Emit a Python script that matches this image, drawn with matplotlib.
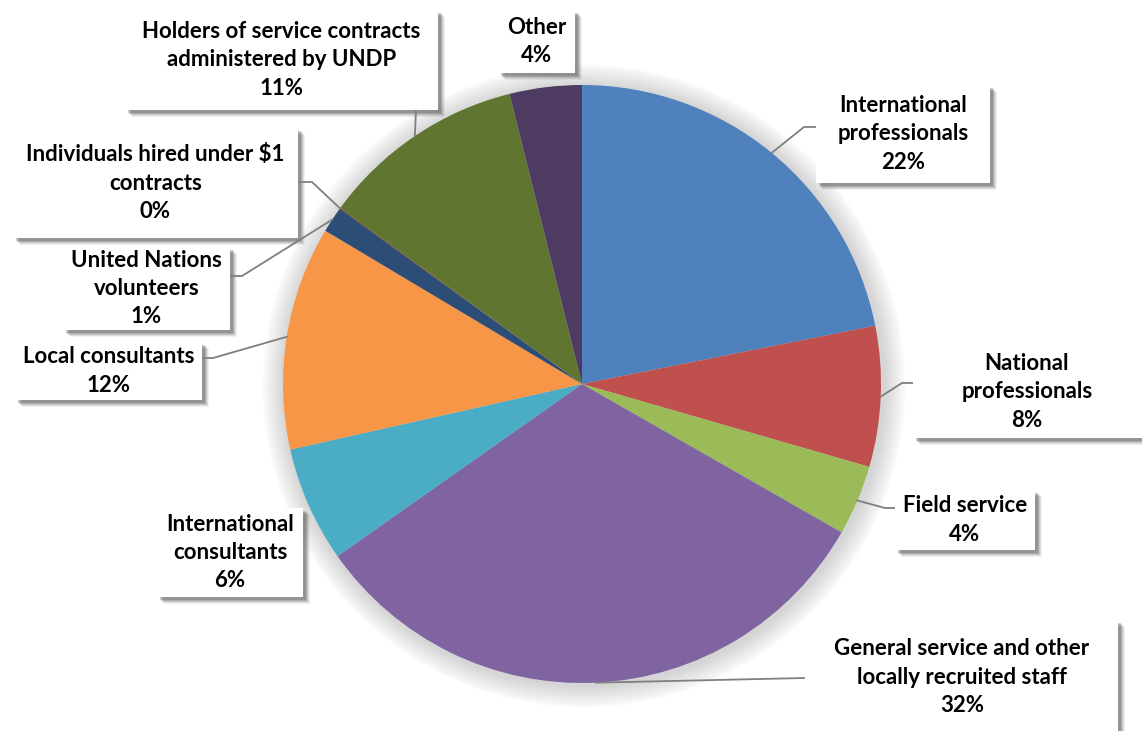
import numpy as np
import matplotlib
matplotlib.use("Agg")
import matplotlib.pyplot as plt
from matplotlib.patches import Rectangle, Circle

plt.rcParams['font.family'] = ['Lato', 'DejaVu Sans']

# staff categories, clockwise from 12 o'clock
categories = [
    "International\nprofessionals",
    "National\nprofessionals",
    "Field service",
    "General service and other\nlocally recruited staff",
    "International\nconsultants",
    "Local consultants",
    "United Nations\nvolunteers",
    "Individuals hired under $1\ncontracts",
    "Holders of service contracts\nadministered by UNDP",
    "Other",
]
shares = [21.9, 7.6, 3.8, 32.0, 6.25, 12.1, 1.4, 0.05, 11.1, 3.9]
colors = ["#4F81BD", "#C0504D", "#9BBB59", "#8064A2", "#4BACC6",
          "#F79646", "#2C4D75", "#772C2A", "#5F7530", "#4D3B62"]

# label boxes (pixel coords, y down): left, top, right, bottom, elbow, attach
boxes = [
    (816, 85, 990, 183, (804, 127), (816, 127)),
    (913, 348, 1150, 438, (902, 383), (913, 383)),
    (895, 490, 1035, 550, (885, 508), (895, 508)),
    (805, 620, 1118, 745, None, (805, 678)),
    (157, 508, 303, 597, None, None),
    (15, 342, 202, 400, (213, 358), (202, 358)),
    (63, 247, 230, 330, (242, 276), (230, 276)),
    (13, 128, 298, 238, (312, 182), (298, 182)),
    (125, 10, 438, 110, None, (416, 110)),
    (498, 10, 575, 73, None, None),
]
# text centres where the box runs off the canvas
text_pos = {1: (1027, 392), 3: (962, 677)}

W, H = 1142, 731
cx, cy, R = 582, 384, 299

fig = plt.figure(figsize=(W / 100, H / 100), dpi=100)
ax = fig.add_axes([0, 0, 1, 1])

# soft halo behind the pie
for i in range(14, 0, -1):
    ax.add_patch(Circle((cx + 2, cy + 2), R + i * 1.6, color="#9a9a9a",
                        alpha=0.03, lw=0, zorder=0))

wedges, _ = ax.pie(shares, colors=colors, startangle=270, counterclock=True,
                   radius=R, center=(cx, cy), frame=True,
                   wedgeprops=dict(linewidth=0))
for w in wedges:
    w.set_zorder(2)

ax.set_xlim(0, W)
ax.set_ylim(H, 0)
ax.set_aspect("equal")
ax.axis("off")

total = sum(shares)
for i, (w, name, val, box) in enumerate(zip(wedges, categories, shares, boxes)):
    x0, y0, x1, y1, elbow, attach = box
    # drop shadow
    for k, a in [(7, 0.08), (6, 0.12), (5, 0.16), (4, 0.22), (3, 0.28)]:
        ax.add_patch(Rectangle((x0 + k, y0 + k), x1 - x0, y1 - y0,
                               color="#555555", alpha=a, lw=0, zorder=3))
    ax.add_patch(Rectangle((x0, y0), x1 - x0, y1 - y0, facecolor="white",
                           edgecolor="none", zorder=4))
    tx, ty = text_pos.get(i, ((x0 + x1) / 2, (y0 + y1) / 2))
    pct = 100 * val / total
    ax.text(tx, ty, f"{name}\n{pct:.0f}%", ha="center", va="center",
            fontsize=16, fontweight="bold", linespacing=1.42, zorder=5)

    if attach is None:
        continue
    mid = np.deg2rad((w.theta1 + w.theta2) / 2)
    px, py = cx + R * np.cos(mid), cy + R * np.sin(mid)
    pts = [(px, py)]
    if elbow is not None:
        pts.append(elbow)
    pts.append(attach)
    xs, ys = zip(*pts)
    ax.plot(xs, ys, color="#7f7f7f", lw=1.3, zorder=3.5)

fig.savefig("out.png", dpi=100, facecolor="white")
